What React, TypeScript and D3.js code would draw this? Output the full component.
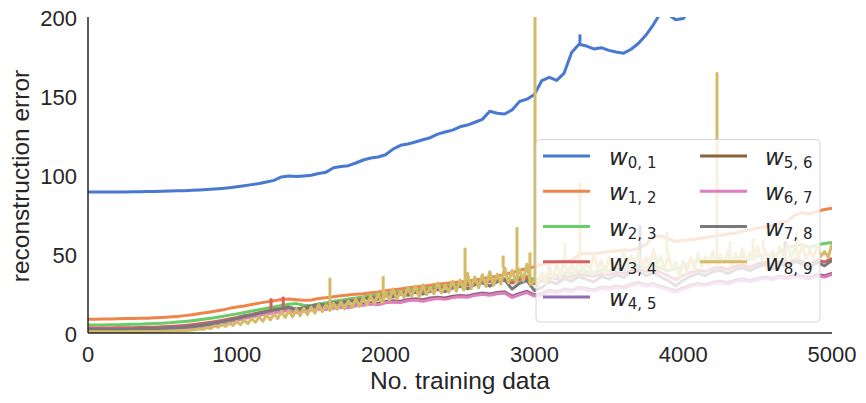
import * as d3 from 'd3'

// x grid: one value every 50 training samples (w89 is read every 25)
const steps = d3.range(0, 5001, 50)
const fineSteps = d3.range(0, 5001, 25)

const w01 = [
  89.2, 89.2, 89.2, 89.2, 89.3, 89.3, 89.4, 89.4, 89.5, 89.6,
  89.7, 89.8, 90.0, 90.1, 90.3, 90.5, 90.8, 91.1, 91.5, 92.0,
  92.6, 93.2, 93.9, 94.6, 95.6, 96.6, 98.8, 99.3, 99.0, 99.4,
  99.8, 100.9, 101.8, 104.6, 105.4, 105.9, 107.6, 109.5, 110.8, 111.4,
  112.8, 116.4, 118.8, 119.6, 120.9, 122.3, 123.6, 125.9, 127.2, 128.4,
  130.5, 131.6, 133.4, 135.2, 140.3, 139.1, 138.6, 141.2, 146.5, 148.0,
  151.0, 159.8, 161.8, 159.9, 164.5, 177.5, 182.8, 181.6, 179.8, 180.6,
  178.9, 177.8, 177.1, 179.6, 183.4, 188.6, 195.2, 203.0, 201.5, 198.2,
  199.0, 205.4, 209.8, 214.0, 217.5, 221.0, 224.6, 228.0, 231.2, 234.8,
  238.5, 241.0, 245.3, 248.2, 251.6, 254.0, 257.9, 260.4, 263.5, 266.0,
  269.2,
]
const w12 = [
  8.7, 8.7, 8.8, 8.9, 9.0, 9.1, 9.2, 9.3, 9.4, 9.6,
  9.8, 10.1, 10.5, 11.0, 11.6, 12.3, 13.0, 13.7, 14.5, 15.6,
  16.4, 17.1, 18.0, 18.9, 19.7, 20.4, 21.2, 21.5, 21.1, 20.8,
  20.9, 21.8, 22.3, 22.9, 23.6, 24.1, 24.6, 24.9, 25.5, 26.0,
  26.8, 27.3, 27.9, 28.6, 29.1, 29.6, 30.2, 30.9, 31.4, 31.9,
  32.3, 32.8, 33.6, 34.3, 35.2, 36.0, 37.1, 38.4, 39.6, 40.8,
  42.0, 43.1, 44.2, 44.8, 45.3, 46.2, 49.5, 50.6, 50.1, 51.0,
  51.4, 52.0, 52.6, 52.3, 53.6, 56.1, 61.0, 61.4, 59.6, 57.9,
  58.6, 59.1, 59.7, 60.4, 61.2, 61.8, 62.6, 63.3, 64.5, 65.2,
  66.4, 67.1, 68.0, 69.5, 70.8, 74.6, 76.2, 75.3, 77.1, 78.2,
  79.0,
]
const w23 = [
  5.1, 5.1, 5.1, 5.2, 5.3, 5.4, 5.5, 5.6, 5.8, 6.0,
  6.2, 6.5, 6.9, 7.3, 7.8, 8.4, 9.0, 9.7, 10.4, 11.3,
  12.1, 13.0, 13.9, 14.8, 15.6, 16.5, 17.4, 18.2, 18.6, 17.6,
  17.3, 18.4, 19.2, 20.1, 20.8, 21.6, 22.1, 22.8, 23.6, 24.2,
  24.9, 25.4, 26.1, 26.8, 27.2, 27.9, 28.5, 29.1, 29.6, 30.2,
  30.8, 31.3, 32.0, 32.6, 33.1, 33.8, 34.4, 33.2, 35.1, 35.9,
  33.8, 35.2, 37.0, 36.4, 38.1, 37.5, 39.4, 38.8, 38.2, 39.9,
  39.3, 40.8, 40.1, 41.9, 43.0, 41.4, 42.6, 41.0, 39.4, 40.6,
  42.4, 44.8, 45.6, 44.3, 46.2, 46.9, 45.7, 47.4, 48.2, 47.1,
  48.9, 49.8, 48.6, 51.2, 53.5, 55.4, 56.1, 54.2, 55.8, 56.6,
  57.3,
]
const w34 = [
  3.2, 3.2, 3.2, 3.2, 3.3, 3.3, 3.4, 3.5, 3.6, 3.7,
  3.9, 4.1, 4.4, 4.8, 5.3, 5.9, 6.5, 7.2, 8.0, 8.9,
  9.8, 10.9, 11.8, 12.9, 13.8, 14.6, 15.4, 16.1, 15.2, 15.8,
  16.5, 17.4, 17.9, 18.8, 19.3, 20.2, 20.8, 21.6, 22.3, 22.9,
  23.8, 24.2, 25.1, 25.6, 26.3, 26.9, 27.4, 28.2, 28.6, 29.5,
  30.1, 30.4, 31.3, 31.9, 32.4, 33.2, 33.8, 31.6, 33.9, 34.8,
  31.2, 32.8, 34.9, 34.1, 36.2, 35.4, 37.3, 36.5, 35.8, 37.6,
  36.9, 38.4, 37.7, 39.6, 40.8, 38.9, 40.2, 38.3, 36.1, 33.7,
  36.5, 38.4, 39.9, 38.8, 40.9, 41.6, 40.2, 42.3, 43.1, 41.7,
  43.8, 44.6, 43.1, 45.2, 44.3, 46.4, 45.2, 43.6, 46.1, 44.9,
  47.2,
]
const w45 = [
  2.4, 2.4, 2.4, 2.4, 2.5, 2.5, 2.6, 2.7, 2.8, 2.9,
  3.1, 3.3, 3.6, 3.9, 4.3, 4.8, 5.4, 6.2, 7.0, 7.9,
  8.8, 9.9, 10.8, 11.9, 12.8, 13.6, 14.3, 15.0, 13.9, 14.6,
  15.4, 16.1, 15.7, 16.5, 17.2, 16.9, 18.0, 18.5, 19.2, 18.8,
  20.0, 20.4, 20.1, 21.2, 21.7, 21.0, 22.1, 22.6, 22.2, 23.3,
  23.8, 23.4, 24.6, 25.3, 24.7, 25.6, 26.1, 23.3, 25.0, 26.4,
  24.1, 24.8, 27.1, 26.2, 27.8, 27.0, 28.9, 28.2, 27.3, 29.1,
  28.4, 29.8, 29.0, 30.9, 32.0, 30.4, 31.3, 29.5, 28.2, 26.7,
  28.6, 30.3, 31.4, 30.6, 32.2, 32.8, 31.9, 33.4, 34.2, 33.3,
  34.6, 35.4, 34.5, 36.0, 35.2, 36.8, 35.9, 35.1, 37.0, 36.2,
  37.8,
]
const w56 = [
  2.0, 2.0, 2.0, 2.0, 2.1, 2.1, 2.2, 2.3, 2.4, 2.5,
  2.7, 2.9, 3.2, 3.5, 3.9, 4.4, 5.0, 5.8, 6.6, 7.5,
  8.4, 9.5, 10.4, 11.5, 12.4, 13.2, 13.9, 14.6, 13.5, 14.2,
  15.0, 15.7, 15.3, 16.1, 16.8, 16.5, 17.6, 18.1, 18.8, 18.4,
  19.6, 20.0, 19.7, 20.8, 21.3, 20.6, 21.7, 22.2, 21.8, 22.9,
  23.4, 23.0, 24.2, 24.9, 24.3, 25.2, 25.7, 22.9, 24.6, 26.0,
  23.7, 24.4, 26.7, 25.8, 27.4, 26.6, 28.5, 27.8, 26.9, 28.7,
  28.0, 29.4, 28.6, 30.5, 31.6, 30.0, 30.9, 29.1, 27.8, 26.3,
  28.2, 29.9, 31.0, 30.2, 31.8, 32.4, 31.5, 33.0, 33.8, 32.9,
  34.2, 35.0, 34.1, 35.6, 34.8, 36.4, 35.5, 34.7, 36.6, 35.8,
  37.4,
]
const w67 = [
  1.6, 1.6, 1.6, 1.6, 1.7, 1.7, 1.8, 1.9, 2.0, 2.1,
  2.3, 2.5, 2.8, 3.1, 3.5, 4.0, 4.6, 5.4, 6.2, 7.1,
  8.0, 9.2, 10.1, 11.0, 12.2, 12.8, 13.6, 14.2, 13.0, 13.8,
  14.6, 15.2, 14.8, 15.6, 16.3, 16.0, 17.2, 17.6, 18.3, 17.9,
  19.1, 19.6, 19.2, 20.4, 20.9, 20.1, 21.2, 21.8, 21.3, 22.4,
  23.0, 22.6, 23.8, 24.5, 23.9, 24.8, 25.3, 22.5, 24.2, 25.6,
  23.4, 24.0, 26.3, 25.4, 27.0, 26.2, 28.1, 27.4, 26.5, 28.3,
  27.6, 29.0, 28.2, 30.1, 31.2, 29.6, 30.5, 28.7, 27.4, 25.9,
  27.8, 29.5, 30.6, 29.8, 31.4, 32.0, 31.1, 32.6, 33.4, 32.5,
  33.8, 34.6, 33.7, 35.2, 34.4, 36.0, 35.1, 34.3, 36.2, 35.4,
  37.0,
]
const w78 = [
  2.1, 2.1, 2.1, 2.1, 2.2, 2.2, 2.3, 2.4, 2.5, 2.6,
  2.8, 3.0, 3.3, 3.6, 4.0, 4.6, 5.3, 6.1, 7.2, 8.0,
  9.1, 10.4, 11.2, 12.6, 13.5, 14.8, 15.3, 16.4, 14.9, 16.2,
  17.1, 18.3, 17.4, 19.2, 18.6, 20.5, 19.8, 21.3, 22.6, 21.4,
  23.5, 22.8, 24.6, 23.9, 25.8, 24.7, 26.4, 27.5, 26.2, 28.4,
  29.6, 27.9, 30.5, 31.8, 29.7, 32.4, 33.6, 27.8, 31.5, 33.2,
  26.8, 28.9, 32.6, 31.2, 34.5, 32.8, 35.6, 33.9, 32.4, 35.8,
  34.1, 36.7, 35.2, 38.4, 39.6, 36.3, 38.1, 35.4, 33.2, 29.8,
  33.5, 35.9, 37.8, 36.2, 38.9, 39.5, 37.6, 40.1, 41.3, 39.4,
  41.8, 43.2, 40.7, 43.9, 42.1, 45.3, 43.6, 41.2, 44.8, 42.5,
  46.0,
]
// w89 is read every 25 samples: it is the noisiest curve
const w89 = [
  0.8, 0.8, 0.8, 0.8, 0.8, 0.8, 0.8, 0.8, 0.8, 0.8, 0.8, 0.9, 0.9, 0.9, 0.9, 0.9, 1.0, 1.0, 1.0, 1.0,
  1.1, 1.1, 1.2, 1.2, 1.3, 1.4, 1.5, 1.7, 1.9, 2.2, 2.6, 2.3, 3.4, 2.9, 4.5, 3.6, 5.4, 4.2, 6.3, 4.8,
  7.2, 5.3, 8.1, 6.0, 9.2, 6.8, 10.1, 7.5, 11.4, 8.3, 12.2, 9.1, 13.6, 9.8, 14.1, 10.2, 14.8, 10.9, 15.6, 11.6,
  16.4, 12.5, 18.1, 13.6, 17.9, 14.2, 18.8, 15.1, 19.6, 15.3, 20.4, 16.2, 21.4, 16.8, 22.6, 17.9, 23.3, 18.6, 24.8, 19.4,
  25.6, 20.8, 27.9, 21.5, 26.4, 22.3, 28.8, 23.1, 29.6, 22.8, 30.4, 24.2, 28.9, 24.8, 31.6, 25.3, 30.2, 25.9, 32.8, 26.4,
  33.5, 27.2, 37.8, 28.1, 35.4, 28.6, 36.9, 29.4, 38.8, 30.2, 37.1, 31.0, 41.2, 31.8, 39.6, 32.5, 40.4, 33.1, 43.6, 30.8,
  33.2, 29.6, 38.4, 31.5, 42.8, 34.6, 44.1, 35.2, 46.5, 36.8, 43.7, 37.9, 47.8, 38.6, 45.2, 39.4, 49.6, 40.8, 46.3, 37.9,
  48.1, 39.5, 45.6, 41.2, 52.4, 42.6, 48.9, 43.8, 51.2, 41.5, 47.6, 42.9, 53.1, 43.2, 48.5, 39.8, 49.7, 40.5, 44.8, 35.6,
  45.2, 38.4, 47.8, 40.1, 50.3, 41.7, 48.6, 42.9, 52.1, 43.6, 49.4, 44.2, 51.8, 43.1, 50.6, 44.8, 53.4, 45.5, 51.2, 46.3,
  55.1, 45.9, 52.6, 46.8, 51.9, 47.2, 54.7, 46.4, 56.2, 48.1, 53.5, 47.6, 55.8, 46.9, 52.4, 47.8, 54.9, 48.5, 51.6, 47.9,
  56.5,
]

// short spikes: [training data, peak error]
const w01Spikes = [[3306, 189]]
const w34Spikes = [[1230, 22], [1312, 23]]
const w78Spikes = [[3710, 68], [4685, 58]]
const w89Spikes = [
  [1626, 35], [1984, 36], [2534, 54], [2790, 49], [2883, 67], [2970, 51],
  [3004, 260], [3206, 57], [3306, 95], [3890, 64], [4227, 165], [4315, 58],
  [4470, 60], [4538, 59], [4764, 64],
]

const xTicks = [0, 1000, 2000, 3000, 4000, 5000]
const yTicks = [0, 50, 100, 150, 200]

const series = [
  { sub: '0, 1', xs: steps, values: w01, spikes: w01Spikes, color: '#4878d0' },
  { sub: '1, 2', xs: steps, values: w12, spikes: [], color: '#ee854a' },
  { sub: '2, 3', xs: steps, values: w23, spikes: [], color: '#6acc64' },
  { sub: '3, 4', xs: steps, values: w34, spikes: w34Spikes, color: '#d65f5f' },
  { sub: '4, 5', xs: steps, values: w45, spikes: [], color: '#956cb4' },
  { sub: '5, 6', xs: steps, values: w56, spikes: [], color: '#8c613c' },
  { sub: '6, 7', xs: steps, values: w67, spikes: [], color: '#dc7ec0' },
  { sub: '7, 8', xs: steps, values: w78, spikes: w78Spikes, color: '#797979' },
  { sub: '8, 9', xs: fineSteps, values: w89, spikes: w89Spikes, color: '#d5bb67' },
]

const W = 866
const H = 403
const left = 88
const right = 832
const top = 17
const bottom = 333
const ink = '#262626'
const sans = "'Liberation Sans', Arial, sans-serif"
const math = "'DejaVu Sans', sans-serif"

export default function App() {
  const x = d3.scaleLinear().domain([0, 5000]).range([left, right])
  const y = d3.scaleLinear().domain([0, 200]).range([bottom, top])

  const pathOf = (xs: number[], values: number[]) =>
    d3
      .line<number>()
      .x((_, i) => x(xs[i]))
      .y((d) => y(d))(values) ?? ''

  // value of a series at the grid point nearest to sx, used as the foot of a spike
  const baseAt = (xs: number[], values: number[], sx: number) => values[d3.minIndex(xs, (v) => Math.abs(v - sx))]

  return (
    <svg width={W} height={H} style={{ position: 'absolute', left: 0, top: 0, background: '#fff' }}>
      <defs>
        <clipPath id="plot">
          <rect x={left} y={top} width={right - left} height={bottom - top} />
        </clipPath>
      </defs>
      <rect width={W} height={H} fill="#fff" />

      <g clipPath="url(#plot)">
        {series.map((s) => (
          <g key={s.sub}>
            <path d={pathOf(s.xs, s.values)} fill="none" stroke={s.color} strokeWidth={3} strokeLinejoin="round" />
            {s.spikes.map(([sx, peak]) => (
              <line
                key={sx}
                x1={x(sx)}
                x2={x(sx)}
                y1={y(baseAt(s.xs, s.values, sx))}
                y2={y(peak)}
                stroke={s.color}
                strokeWidth={3}
              />
            ))}
          </g>
        ))}
      </g>

      <line x1={left} x2={left} y1={top} y2={bottom} stroke={ink} strokeWidth={1.5} />
      <line x1={left} x2={right} y1={bottom} y2={bottom} stroke={ink} strokeWidth={1.5} />

      {yTicks.map((t) => (
        <text key={t} x={77} y={y(t) + 9} textAnchor="end" fontFamily={sans} fontSize={22} fill={ink}>
          {t}
        </text>
      ))}
      {xTicks.map((t) => (
        <text key={t} x={x(t)} y={362} textAnchor="middle" fontFamily={sans} fontSize={22} fill={ink}>
          {t}
        </text>
      ))}
      <text x={(left + right) / 2} y={389} textAnchor="middle" fontFamily={sans} fontSize={24.5} fill={ink}>
        No. training data
      </text>
      <text transform="translate(29,176) rotate(-90)" textAnchor="middle" fontFamily={sans} fontSize={24.5} fill={ink}>
        reconstruction error
      </text>

      <rect
        x={536}
        y={139.5}
        width={284}
        height={182.5}
        rx={4}
        fill="#fff"
        fillOpacity={0.8}
        stroke="#cccccc"
        strokeOpacity={0.8}
      />
      {series.map((s, i) => {
        const col = i < 5 ? 0 : 1
        const row = i < 5 ? i : i - 5
        const ly = 156 + row * 35.25
        const hx = col === 0 ? 543 : 700
        const tx = col === 0 ? 609 : 765
        return (
          <g key={'lg' + s.sub}>
            <line x1={hx} x2={hx + 47} y1={ly} y2={ly} stroke={s.color} strokeWidth={3} />
            <text x={tx} y={ly + 9} fontFamily={math} fontWeight={400} fill={ink}>
              <tspan fontSize={23} fontStyle="italic">w</tspan>
              <tspan fontSize={15} dy={3}>{s.sub}</tspan>
            </text>
          </g>
        )
      })}
    </svg>
  )
}
